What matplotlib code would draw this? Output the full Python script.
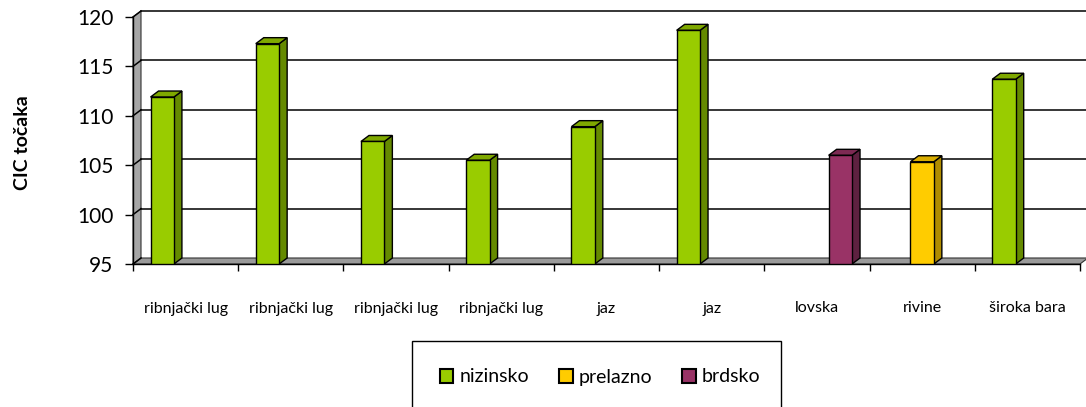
import numpy as np
import matplotlib.pyplot as plt
from matplotlib.patches import Polygon, Rectangle, Patch

plt.rcParams['font.family'] = ['Lato', 'DejaVu Sans']

categories = ['ribnjački lug', 'ribnjački lug', 'ribnjački lug', 'ribnjački lug',
              'jaz', 'jaz', 'lovska', 'rivine', 'široka bara']
nan = np.nan
nizinsko = [111.9, 117.3, 107.4, 105.5, 108.9, 118.65, nan, nan, 113.7]
prelazno = [nan, nan, nan, nan, nan, nan, nan, 105.35, nan]
brdsko = [nan, nan, nan, nan, nan, nan, 106.0, nan, nan]
series_names = ['nizinsko', 'prelazno', 'brdsko']
yticks = [95, 100, 105, 110, 115, 120]

# front, side, top colours
colors = {
    'nizinsko': ('#99cc00', '#658a00', '#7fa800'),
    'prelazno': ('#ffcc00', '#b08c00', '#d9ad00'),
    'brdsko': ('#993366', '#5e2140', '#7d2a53'),
}

W, H = 1086, 407
fig = plt.figure(figsize=(W / 100, H / 100), dpi=100)
ax_w, ax_h = 947, 247
ax = fig.add_axes([133 / W, 143 / H, ax_w / W, ax_h / H])
n = len(categories)
ymin, ymax = 95, 120
ax.set_xlim(0, n)
ax.set_ylim(ymin, ymax)

# depth of the 3d effect, pixels -> data
dx = 8 / ax_w * n
dy = 6 / ax_h * (ymax - ymin)

# floor and left wall
ax.add_patch(Polygon([(0, ymin), (n, ymin), (n + dx, ymin + dy), (dx, ymin + dy)],
                     closed=True, facecolor='#9a9a9a', edgecolor='#333333', lw=0.8,
                     clip_on=False, zorder=1))
ax.add_patch(Polygon([(0, ymin), (0, ymax), (dx, ymax + dy), (dx, ymin + dy)],
                     closed=True, facecolor='#a6a6a6', edgecolor='#333333', lw=0.8,
                     clip_on=False, zorder=1))
for v in yticks:
    ax.plot([0, dx], [v, v + dy], color='black', lw=1.1, clip_on=False, zorder=1.5)
    if v > ymin:
        ax.plot([dx, n + dx + 1], [v + dy, v + dy], color='black', lw=1.1,
                clip_on=False, zorder=1.5)

# bars
slot = 1 / (3 + 1.5)
for j, (name, vals) in enumerate(zip(series_names, [nizinsko, prelazno, brdsko])):
    front, side, top = colors[name]
    for i, v in enumerate(vals):
        if np.isnan(v):
            continue
        xl = i + 0.75 * slot + j * slot
        xr = xl + slot
        ax.bar(xl, v - ymin, width=slot, bottom=ymin, align='edge', color=front,
               edgecolor='black', lw=1.0, zorder=3)
        ax.add_patch(Polygon([(xr, ymin), (xr, v), (xr + dx, v + dy), (xr + dx, ymin + dy)],
                             closed=True, facecolor=side, edgecolor='black', lw=1.0,
                             zorder=2.9, clip_on=False))
        ax.add_patch(Polygon([(xl, v), (xr, v), (xr + dx, v + dy), (xl + dx, v + dy)],
                             closed=True, facecolor=top, edgecolor='black', lw=1.0,
                             zorder=2.9, clip_on=False))

for s in ['top', 'right']:
    ax.spines[s].set_visible(False)
ax.spines['left'].set_zorder(2)
ax.spines['bottom'].set_zorder(2)
ax.spines['left'].set_linewidth(1.0)
ax.spines['bottom'].set_linewidth(1.0)
ax.set_yticks(yticks)
ax.tick_params(axis='y', length=6, width=1, pad=8, labelsize=15)
ax.set_xticks(np.arange(n) + 0.5)
ax.set_xticklabels(categories, fontsize=11.5)
ax.set_xticks(np.arange(n + 1), minor=True)
ax.tick_params(axis='x', which='major', length=0, pad=27)
ax.tick_params(axis='x', which='minor', length=5, width=1)
ax.patch.set_alpha(0)

fig.text(23 / W, 1 - 143 / H, 'CIC točaka', rotation=90, fontsize=14,
         fontweight='bold', ha='center', va='center')

# legend
fig.add_artist(Rectangle((412 / W, -0.05), (781 - 412) / W, 0.05 + (H - 341) / H,
                         transform=fig.transFigure, facecolor='none',
                         edgecolor='black', lw=1.0))
handles = [Patch(facecolor=colors[s][0], edgecolor='black', lw=1.5) for s in series_names]
fig.legend(handles, series_names, loc='center', bbox_to_anchor=(600 / W, 1 - 377 / H),
           ncol=3, frameon=False, fontsize=14, handlelength=0.7, handleheight=0.7,
           handletextpad=0.3, columnspacing=1.55)

fig.savefig('out.png', dpi=100)
